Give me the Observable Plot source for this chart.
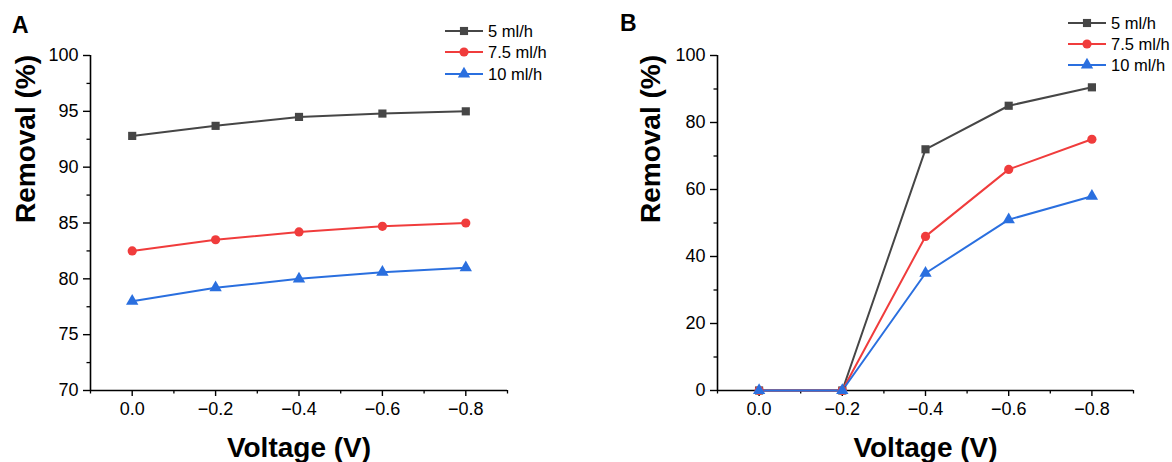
<!DOCTYPE html>
<html><head><meta charset="utf-8">
<script src="https://cdn.jsdelivr.net/npm/d3@7"></script>
<script src="https://cdn.jsdelivr.net/npm/@observablehq/plot@0.6"></script>
<style>
html,body{margin:0;padding:0;background:#fff;}
#wrap{position:relative;width:1172px;height:462px;overflow:hidden;font-family:"Liberation Sans",Arial,sans-serif;}
.panel{position:absolute;top:0;}
.letter{position:absolute;font-weight:bold;font-size:23px;color:#000;}
.legend{position:absolute;}
</style></head>
<body><div id="wrap"></div>
<script>
const voltages = [0, -0.2, -0.4, -0.6, -0.8];
const seriesNames = ["5 ml/h", "7.5 ml/h", "10 ml/h"];
const colors = ["#464646", "#f03c3c", "#2a6fdf"];
const symbols = ["square", "circle", "triangle"];

const removalA_5 = [92.8, 93.7, 94.5, 94.8, 95.0];
const removalA_75 = [82.5, 83.5, 84.2, 84.7, 85.0];
const removalA_10 = [78.0, 79.2, 80.0, 80.6, 81.0];

const removalB_5 = [0, 0, 72, 85, 90.5];
const removalB_75 = [0, 0, 46, 66, 75];
const removalB_10 = [0, 0, 35, 51, 58];

const xTicks = [0, -0.2, -0.4, -0.6, -0.8];
const xMinor = [0.1, -0.1, -0.3, -0.5, -0.7, -0.9];
const yTicksA = [70, 75, 80, 85, 90, 95, 100];
const yMinorA = [72.5, 77.5, 82.5, 87.5, 92.5, 97.5];
const yTicksB = [0, 20, 40, 60, 80, 100];
const yMinorB = [10, 30, 50, 70, 90];

function rows(seriesVals) {
  const out = [];
  seriesVals.forEach((vals, i) => vals.forEach((v, j) => out.push({s: seriesNames[i], x: voltages[j], y: v})));
  return out;
}

const wrap = document.getElementById("wrap");
const font = "Liberation Sans, Arial, sans-serif";

function panel({left, ml, mr, yDomain, yTicks, yMinor, data, titleDx}) {
  const xDomain = [0.1, -0.9];
  const marks = [
    Plot.ruleY([yDomain[0]], {stroke: "#000", strokeWidth: 1.6}),
    Plot.ruleX([xDomain[0]], {stroke: "#000", strokeWidth: 1.6}),
    Plot.axisX({ticks: xTicks, tickSize: 6, tickPadding: 6, tickFormat: d3.format(".1f"), fontSize: 18, label: null, strokeWidth: 1.4}),
    Plot.axisX({ticks: xMinor, tickSize: 3.5, tickFormat: () => "", label: null, strokeWidth: 1.3}),
    Plot.axisY({ticks: yTicks, tickSize: 7, tickPadding: 5, fontSize: 18, label: null, strokeWidth: 1.4}),
    Plot.axisY({ticks: yMinor, tickSize: 3.5, tickFormat: () => "", label: null, strokeWidth: 1.3}),
    Plot.line(data, {x: "x", y: "y", stroke: "s", strokeWidth: 2}),
    Plot.dot(data, {x: "x", y: "y", fill: "s", symbol: "s", r: 4.6, stroke: null}),
    Plot.text(["Removal (%)"], {frameAnchor: "left", dx: titleDx, rotate: -90, fontSize: 28, fontWeight: "bold", fill: "#000", lineAnchor: "middle"}),
    Plot.text(["Voltage (V)"], {frameAnchor: "bottom", dy: 58, fontSize: 28, fontWeight: "bold", fill: "#000", lineAnchor: "middle"})
  ];
  const p = Plot.plot({
    width: 572, height: 462,
    marginLeft: ml, marginRight: mr, marginTop: 55, marginBottom: 72,
    style: {fontFamily: font, color: "#000", background: "transparent", overflow: "visible"},
    x: {domain: xDomain, label: null},
    y: {domain: yDomain, label: null},
    color: {domain: seriesNames, range: colors},
    symbol: {domain: seriesNames, range: symbols},
    marks
  });
  p.classList.add("panel");
  p.style.left = left + "px";
  wrap.appendChild(p);
}

panel({left: 0, ml: 90, mr: 65, yDomain: [70, 100], yTicks: yTicksA, yMinor: yMinorA, titleDx: -64,
  data: rows([removalA_5, removalA_75, removalA_10])});
panel({left: 600, ml: 117, mr: 39, yDomain: [0, 100], yTicks: yTicksB, yMinor: yMinorB, titleDx: -66,
  data: rows([removalB_5, removalB_75, removalB_10])});

function letter(t, x, y) {
  const d = document.createElement("div");
  d.className = "letter"; d.textContent = t;
  d.style.left = x + "px"; d.style.top = y + "px";
  wrap.appendChild(d);
}
letter("A", 12, 12);
letter("B", 620, 10);

function legend(x0, ys) {
  const svg = d3.select(wrap).append("svg").attr("class", "legend")
    .attr("width", 1172).attr("height", 100).style("left", "0px").style("top", "0px");
  seriesNames.forEach((n, i) => {
    const y = ys[i];
    const g = svg.append("g");
    g.append("line").attr("x1", x0).attr("x2", x0 + 38).attr("y1", y).attr("y2", y)
      .attr("stroke", colors[i]).attr("stroke-width", 2);
    const sym = d3.symbol().type([d3.symbolSquare, d3.symbolCircle, d3.symbolTriangle][i]).size(66);
    g.append("path").attr("d", sym()).attr("transform", `translate(${x0 + 19},${y})`).attr("fill", colors[i]);
    g.append("text").attr("x", x0 + 43).attr("y", y).attr("dy", "0.36em")
      .attr("font-family", font).attr("font-size", 16.5).attr("fill", "#000").text(n);
  });
}
legend(445, [31, 52, 74]);
legend(1068, [23, 44, 65]);
</script></body></html>
